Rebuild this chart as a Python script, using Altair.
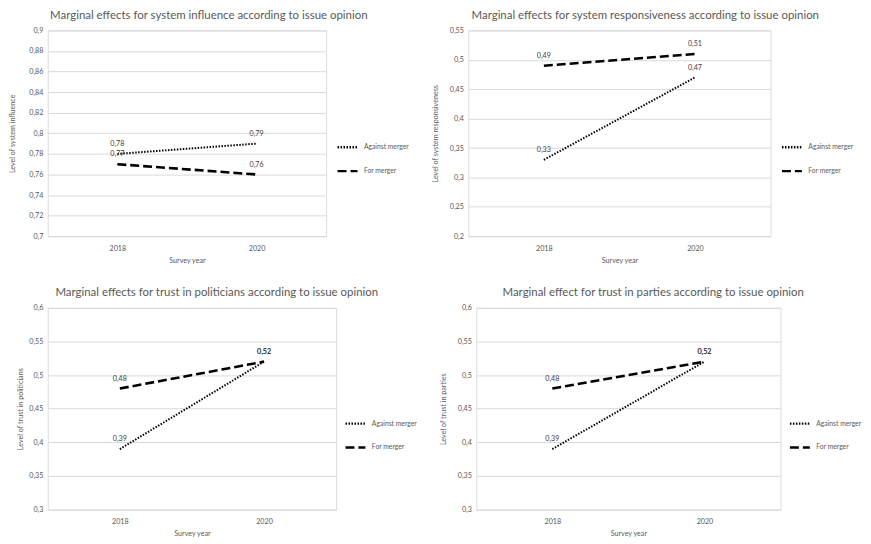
import altair as alt
import pandas as pd

years = ["2018", "2020"]
groups = ["Against merger", "For merger"]

influence_against = [0.78, 0.79]
influence_for = [0.77, 0.76]
resp_against = [0.33, 0.47]
resp_for = [0.49, 0.51]
pol_against = [0.39, 0.52]
pol_for = [0.48, 0.52]
part_against = [0.39, 0.52]
part_for = [0.48, 0.52]

ticks_influence = [0.7, 0.72, 0.74, 0.76, 0.78, 0.8, 0.82, 0.84, 0.86, 0.88, 0.9]
ticks_resp = [0.2, 0.25, 0.3, 0.35, 0.4, 0.45, 0.5, 0.55]
ticks_trust = [0.3, 0.35, 0.4, 0.45, 0.5, 0.55, 0.6]

FONT = "Lato"
GRAY = "#595959"
LBL = 7.2
LEG = 6.8


def make_df(against, for_):
    rows = []
    for g, vals in zip(groups, [against, for_]):
        for y, v in zip(years, vals):
            rows.append({"year": y, "group": g, "value": v,
                         "label": f"{v:.2f}".replace(".", ",")})
    return pd.DataFrame(rows)


def panel(against, for_, title, ytitle, ticks, width, height, title_dx,
          legend_x, legend_y, ytitle_pad, ylabel_pad):
    df = make_df(against, for_)
    base = alt.Chart(df)
    x = alt.X("year:O", scale=alt.Scale(type="point", padding=0.5),
              axis=alt.Axis(title="Survey year", labelAngle=0, domain=False,
                            ticks=False, grid=False, labelFontSize=LBL,
                            titleFontSize=LBL, labelColor=GRAY,
                            titleColor=GRAY, titleFontWeight="normal",
                            labelFont=FONT, titleFont=FONT,
                            labelPadding=8, titlePadding=5))
    y = alt.Y("value:Q",
              scale=alt.Scale(domain=[ticks[0], ticks[-1]], nice=False,
                              zero=False),
              axis=alt.Axis(title=ytitle, values=ticks,
                            labelExpr="replace(format(datum.value, '.2~f'), '.', ',')",
                            domain=False, ticks=False, grid=True,
                            gridColor="#d9d9d9", gridWidth=1,
                            labelFontSize=LBL, titleFontSize=LBL,
                            labelColor=GRAY, titleColor=GRAY,
                            titleFontWeight="normal", labelFont=FONT,
                            titleFont=FONT, labelPadding=ylabel_pad,
                            titlePadding=ytitle_pad))
    lines = base.mark_line(color="black", strokeCap="butt").encode(
        x=x, y=y,
        strokeDash=alt.StrokeDash(
            "group:N",
            scale=alt.Scale(domain=groups, range=[[1.5, 1.5], [9, 4]]),
            legend=alt.Legend(title=None, orient="none", legendX=legend_x,
                              legendY=legend_y, symbolType="stroke",
                              symbolSize=400, symbolStrokeColor="black",
                              symbolStrokeWidth=2.3, labelFontSize=LEG,
                              labelColor=GRAY, labelFont=FONT,
                              rowPadding=7, labelOffset=5, padding=0)),
        strokeWidth=alt.StrokeWidth(
            "group:N", scale=alt.Scale(domain=groups, range=[2.0, 2.6]),
            legend=None),
    )
    labels = base.mark_text(dy=-10, fontSize=LBL, color="#404040",
                            font=FONT).encode(x=x, y=y, text="label:N")
    return alt.layer(lines, labels).properties(
        width=width, height=height,
        title=alt.TitleParams(title, fontSize=11.5, color=GRAY, font=FONT,
                              fontWeight="normal", anchor="middle",
                              dx=title_dx, offset=5),
    ).resolve_scale(strokeDash="independent")


p1 = panel(influence_against, influence_for,
           "Marginal effects for system influence according to issue opinion",
           "Level of system influence", ticks_influence, 280, 207, 22,
           290, 106, 12, 5)
p2 = panel(resp_against, resp_for,
           "Marginal effects for system responsiveness according to issue opinion",
           "Level of system responsiveness", ticks_resp, 304, 207, 26,
           314, 106, 10, 5)
p3 = panel(pol_against, pol_for,
           "Marginal effects for trust in politicians according to issue opinion",
           "Level of trust in politicians", ticks_trust, 290, 203, 25,
           298, 105, 4, 5)
p4 = panel(part_against, part_for,
           "Marginal effect for trust in parties according to issue opinion",
           "Level of trust in parties", ticks_trust, 306, 203, 25,
           314, 105, 10, 5)

top = alt.hconcat(p1, p2, spacing=20).resolve_scale(
    strokeDash="independent", strokeWidth="independent").resolve_legend(
    strokeDash="independent")
bottom = alt.hconcat(p3, p4, spacing=20).resolve_scale(
    strokeDash="independent", strokeWidth="independent").resolve_legend(
    strokeDash="independent")

chart = alt.vconcat(top, bottom, spacing=23).configure_view(
    stroke=None).configure(background="white", padding=0)

chart.save("out.html", embed_options={"renderer": "svg", "actions": False})
